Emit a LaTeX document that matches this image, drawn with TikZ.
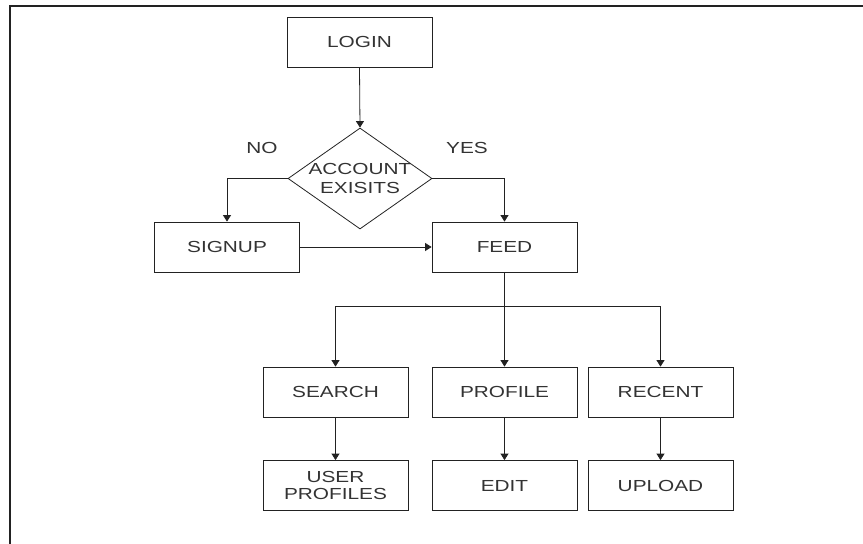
\documentclass[tikz,border=0pt]{standalone}
\usepackage{fontspec}
\setmainfont{Liberation Sans}[FakeStretch=1.3]
\usetikzlibrary{shapes.geometric,arrows.meta}
\definecolor{ink}{HTML}{222222}
\definecolor{txt}{HTML}{333333}
\begin{document}
\begin{tikzpicture}[x=1pt,y=1pt,
  every node/.style={font=\fontsize{16}{19}\selectfont, text=txt},
  stepbox/.style={draw=ink, line width=0.8pt, minimum width=145pt, minimum height=50pt, inner sep=0pt, align=center},
  decision/.style={draw=ink, line width=0.8pt, shape=diamond, minimum width=144pt, minimum height=101pt, inner sep=0pt},
  link/.style={draw=ink, line width=0.8pt},
  arr/.style={link, -{Triangle[width=8pt,length=6.5pt]}}
]
\useasboundingbox (0,0) rectangle (863,-544);
% outer frame (top and left edges)
\draw[ink, line width=1.6pt] (10,-544) -- (10,-6) -- (863,-6);

% nodes
\node[stepbox] (login) at (359.5,-42) {LOGIN};
\node[decision, label={[align=center, text=txt]center:ACCOUNT\\EXISITS}] (acc) at (360,-178.5) {};
\node (no) at (262,-148) {NO};
\node (yes) at (467,-148) {YES};
\node[stepbox] (signup) at (227,-247) {SIGNUP};
\node[stepbox] (feed) at (504.5,-247) {FEED};
\node[stepbox] (search) at (335.5,-392) {SEARCH};
\node[stepbox] (profile) at (504.5,-392) {PROFILE};
\node[stepbox] (recent) at (660.5,-392) {RECENT};
\node[stepbox] (users) at (335.5,-485.5) {USER\\[-2pt]PROFILES};
\node[stepbox] (edit) at (504.5,-485.5) {EDIT};
\node[stepbox] (upload) at (660.5,-485.5) {UPLOAD};
\coordinate (fork) at (504.5,-306);

% connectors
\draw[arr] (login.south) -- (acc.north);
\draw[arr] (acc.west) -| (signup.north);
\draw[arr] (acc.east) -| (feed.north);
\draw[arr] (signup.east) -- (feed.west);
\draw[link] (feed.south) -- (fork);
\draw[arr] (fork) -| (search.north);
\draw[arr] (fork) -- (profile.north);
\draw[arr] (fork) -| (recent.north);
\draw[arr] (search.south) -- (users.north);
\draw[arr] (profile.south) -- (edit.north);
\draw[arr] (recent.south) -- (upload.north);
\end{tikzpicture}
\end{document}
